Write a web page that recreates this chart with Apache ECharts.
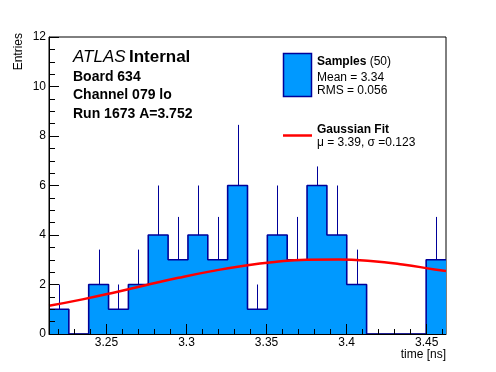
<!DOCTYPE html>
<html>
<head>
<meta charset="utf-8">
<script src="https://cdn.jsdelivr.net/npm/echarts@6/dist/echarts.min.js"></script>
<style>html,body{margin:0;padding:0;background:#fff;}#c{width:496px;height:372px;}</style>
</head>
<body>
<div id="c"></div>
<script>
// ---- data ----
const binStart = 3.2141;
const binWidth = 0.0124;
const counts = [1, 0, 2, 1, 2, 4, 3, 4, 3, 6, 1, 4, 3, 6, 4, 2, 0, 0, 0, 3];
const errors = [1, 0, 1.41, 1, 1.41, 2, 1.73, 2, 1.73, 2.45, 1, 2, 1.73, 0.77, 2, 1.41, 0, 0, 0, 1.73];
const fitX = [3.2141, 3.235, 3.255, 3.275, 3.295, 3.315, 3.335, 3.355, 3.375, 3.395, 3.415, 3.435, 3.455, 3.4621];
const fitY = [1.14, 1.40, 1.68, 1.98, 2.27, 2.53, 2.75, 2.91, 3.00, 3.01, 2.95, 2.81, 2.61, 2.55];
const xMajorTicks = [3.25, 3.3, 3.35, 3.4, 3.45];
const xMinorTicks = [3.22, 3.23, 3.24, 3.25, 3.26, 3.27, 3.28, 3.29, 3.3, 3.31, 3.32, 3.33, 3.34, 3.35, 3.36, 3.37, 3.38, 3.39, 3.4, 3.41, 3.42, 3.43, 3.44, 3.45, 3.46];
const xMin = 3.2141, xMax = 3.4621;
const yMin = 0, yMax = 12, yInterval = 2;

const FONT = '"Liberation Sans", Arial, Helvetica, sans-serif';

// histogram step data (left edges + final right edge)
const histData = counts.map((c, i) => [binStart + i * binWidth, c]);
histData.push([binStart + counts.length * binWidth, counts[counts.length - 1]]);
const errData = counts.map((c, i) => [binStart + (i + 0.5) * binWidth, c, errors[i]]);
const fitData = fitX.map((x, i) => [x, fitY[i]]);

const chart = echarts.init(document.getElementById('c'), null, {renderer: 'canvas'});
chart.setOption({
  animation: false,
  backgroundColor: '#fff',
  grid: {left: 49, right: 50, top: 37, bottom: 38, show: true, borderColor: '#000', borderWidth: 1, backgroundColor: 'transparent'},
  xAxis: [{
    type: 'value', min: xMin, max: xMax, position: 'bottom', z: 10,
    axisLine: {show: true, lineStyle: {color: '#000', width: 1}},
    axisTick: {show: true, inside: true, length: 10, customValues: xMajorTicks, lineStyle: {color: '#000'}},
    axisLabel: {show: true, customValues: xMajorTicks, margin: 3, color: '#000', fontSize: 12, fontFamily: FONT},
    splitLine: {show: false}
  }, {
    type: 'value', min: xMin, max: xMax, position: 'bottom', offset: 0, z: 10,
    axisLine: {show: false},
    axisTick: {show: true, inside: true, length: 5, customValues: xMinorTicks, lineStyle: {color: '#000'}},
    axisLabel: {show: false},
    splitLine: {show: false}
  }],
  yAxis: {
    type: 'value', min: yMin, max: yMax, interval: yInterval, z: 10,
    axisLine: {show: true, lineStyle: {color: '#000', width: 1}},
    axisTick: {show: true, inside: true, length: 10, lineStyle: {color: '#000'}},
    minorTick: {show: true, splitNumber: 4, length: 6, lineStyle: {color: '#000'}},
    axisLabel: {margin: 3, color: '#000', fontSize: 12, fontFamily: FONT},
    splitLine: {show: false}
  },
  series: [{
    type: 'line', step: 'end', data: histData, symbol: 'none', clip: true, z: 2,
    lineStyle: {color: '#000099', width: 1.6},
    areaStyle: {color: '#0099ff', opacity: 1}
  }, {
    type: 'custom', data: errData, z: 3, clip: true,
    renderItem: function (params, api) {
      const x = api.value(0), v = api.value(1), e = api.value(2);
      if (!e) return null;
      const p0 = api.coord([x, v]);
      const p1 = api.coord([x, v + e]);
      const px = Math.round(p0[0]) + 0.5;
      return {type: 'line', shape: {x1: px, y1: p0[1], x2: px, y2: p1[1]}, style: {stroke: '#000099', lineWidth: 1}};
    }
  }, {
    type: 'line', data: fitData, smooth: true, symbol: 'none', clip: true, z: 4,
    lineStyle: {color: '#ff0000', width: 2.5}
  }],
  graphic: [
    {type: 'text', x: 73, y: 57, style: {text: '{a|ATLAS} {b|Internal}', verticalAlign: 'middle', rich: {
      a: {fontStyle: 'italic', fontSize: 17, fontFamily: FONT, fill: '#000'},
      b: {fontWeight: 'bold', fontSize: 17, fontFamily: FONT, fill: '#000'}}}},
    {type: 'text', x: 73, y: 77, style: {text: 'Board 634', fontWeight: 'bold', fontSize: 14, fontFamily: FONT, fill: '#000', verticalAlign: 'middle'}},
    {type: 'text', x: 73, y: 95.5, style: {text: 'Channel 079 lo', fontWeight: 'bold', fontSize: 14, fontFamily: FONT, fill: '#000', verticalAlign: 'middle'}},
    {type: 'text', x: 73, y: 114, style: {text: 'Run 1673 A=3.752', fontWeight: 'bold', fontSize: 14, fontFamily: FONT, fill: '#000', verticalAlign: 'middle'}},
    // legend
    {type: 'rect', shape: {x: 283.5, y: 53.5, width: 28, height: 43}, style: {fill: '#0099ff', stroke: '#000099', lineWidth: 1.5}},
    {type: 'text', x: 317, y: 62, style: {text: '{b|Samples} {n|(50)}', verticalAlign: 'middle', rich: {
      b: {fontWeight: 'bold', fontSize: 12, fontFamily: FONT, fill: '#000'},
      n: {fontSize: 12, fontFamily: FONT, fill: '#000'}}}},
    {type: 'text', x: 317, y: 77.5, style: {text: 'Mean = 3.34', fontSize: 12, fontFamily: FONT, fill: '#000', verticalAlign: 'middle'}},
    {type: 'text', x: 317, y: 91, style: {text: 'RMS = 0.056', fontSize: 12, fontFamily: FONT, fill: '#000', verticalAlign: 'middle'}},
    {type: 'line', shape: {x1: 283, y1: 135.5, x2: 312, y2: 135.5}, style: {stroke: '#ff0000', lineWidth: 2.5}},
    {type: 'text', x: 317, y: 129.5, style: {text: 'Gaussian Fit', fontWeight: 'bold', fontSize: 12, fontFamily: FONT, fill: '#000', verticalAlign: 'middle'}},
    {type: 'text', x: 317, y: 142.5, style: {text: 'μ = 3.39, σ =0.123', fontSize: 12, fontFamily: FONT, fill: '#000', verticalAlign: 'middle'}},
    // axis titles
    {type: 'text', x: 446, y: 355, style: {text: 'time [ns]', fontSize: 12, fontFamily: FONT, fill: '#000', align: 'right', verticalAlign: 'middle'}},
    {type: 'text', x: 18.5, y: 33, rotation: Math.PI / 2, style: {text: 'Entries', fontSize: 12, fontFamily: FONT, fill: '#000', align: 'right', verticalAlign: 'middle'}}
  ]
});
</script>
</body>
</html>
